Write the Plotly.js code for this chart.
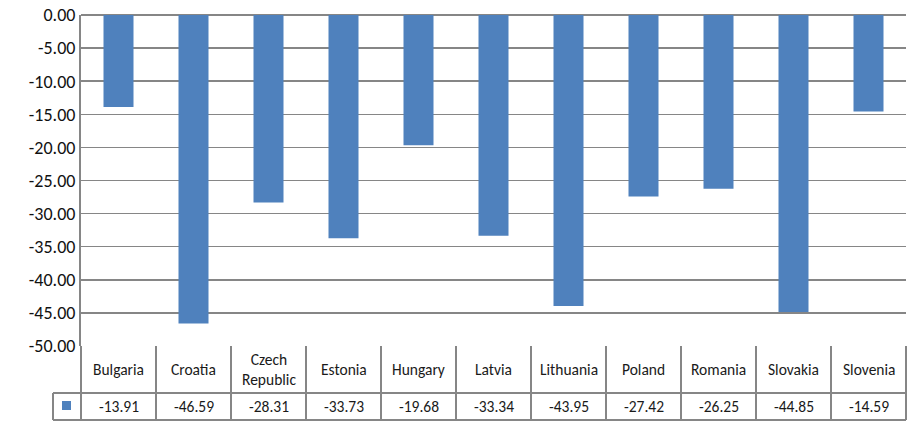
<!DOCTYPE html>
<html><head><meta charset="utf-8">
<script src="https://cdn.plot.ly/plotly-3.0.1.min.js"></script>
<style>html,body{margin:0;padding:0;background:#fff}#c{width:909px;height:428px}</style>
</head><body><div id="c"></div>
<script>
const categories = ["Bulgaria","Croatia","Czech Republic","Estonia","Hungary","Latvia","Lithuania","Poland","Romania","Slovakia","Slovenia"];
const headerLabels = ["Bulgaria","Croatia","Czech<br>Republic","Estonia","Hungary","Latvia","Lithuania","Poland","Romania","Slovakia","Slovenia"];
const values = [-13.91,-46.59,-28.31,-33.73,-19.68,-33.34,-43.95,-27.42,-26.25,-44.85,-14.59];
const yTicks = [0,-5,-10,-15,-20,-25,-30,-35,-40,-45,-50];

const barColor = '#4f81bd';
const lineColor = '#868686';
const n = categories.length;
const H = 331, W = 825, L = 81;
const yp = px => (346 - px) / H;
const xp = px => (px - L) / W;
const colW = W / n;
const font = "Calibri, Carlito, 'Liberation Sans', Arial, sans-serif";

const shapes = [];
const annotations = [];
for (let i = 0; i <= n; i++) {
  const x = xp(L + i * colW);
  shapes.push({type:'line', xref:'paper', yref:'paper', x0:x, x1:x, y0:yp(346), y1:yp(420), line:{color:lineColor, width:2}});
}
shapes.push({type:'line', xref:'paper', yref:'paper', x0:xp(53), x1:xp(906), y0:yp(393), y1:yp(393), line:{color:lineColor, width:2}});
shapes.push({type:'line', xref:'paper', yref:'paper', x0:xp(53), x1:xp(906), y0:yp(420), y1:yp(420), line:{color:lineColor, width:2}});
shapes.push({type:'line', xref:'paper', yref:'paper', x0:xp(53), x1:xp(53), y0:yp(393), y1:yp(420), line:{color:lineColor, width:2}});
shapes.push({type:'rect', xref:'paper', yref:'paper', x0:xp(62), x1:xp(71), y0:yp(410), y1:yp(401), fillcolor:barColor, line:{width:0}});

for (let i = 0; i < n; i++) {
  const cx = xp(L + (i + 0.5) * colW);
  annotations.push({xref:'paper', yref:'paper', x:cx, y:yp(369.5), xanchor:'center', yanchor:'middle', text:headerLabels[i], showarrow:false, font:{family:font, size:15.5, color:'#1a1a1a'}, align:'center'});
  annotations.push({xref:'paper', yref:'paper', x:cx, y:yp(407), xanchor:'center', yanchor:'middle', text:values[i].toFixed(2), showarrow:false, font:{family:font, size:15.5, color:'#1a1a1a'}});
}

const data = [{
  type:'bar', x:categories, y:values, width:0.4,
  marker:{color:barColor, line:{width:0}},
  hoverinfo:'none'
}];

const layout = {
  width:909, height:428,
  margin:{l:81, r:3, t:15, b:82},
  paper_bgcolor:'#fff', plot_bgcolor:'#fff',
  showlegend:false,
  xaxis:{type:'category', showticklabels:false, showgrid:false, zeroline:false, ticks:'', range:[-0.5, n-0.5], showline:false},
  yaxis:{range:[-50,0], tickvals:yTicks, ticktext:yTicks.map(v=>v.toFixed(2)), showgrid:true, gridcolor:lineColor, gridwidth:1.5,
         zeroline:true, zerolinecolor:lineColor, zerolinewidth:2, showline:true, linecolor:lineColor, linewidth:2, mirror:false,
         ticks:'', tickfont:{family:font, size:18, color:'#111'}, ticklen:0},
  shapes:shapes, annotations:annotations
};
Plotly.newPlot('c', data, layout, {staticPlot:true});
</script></body></html>
